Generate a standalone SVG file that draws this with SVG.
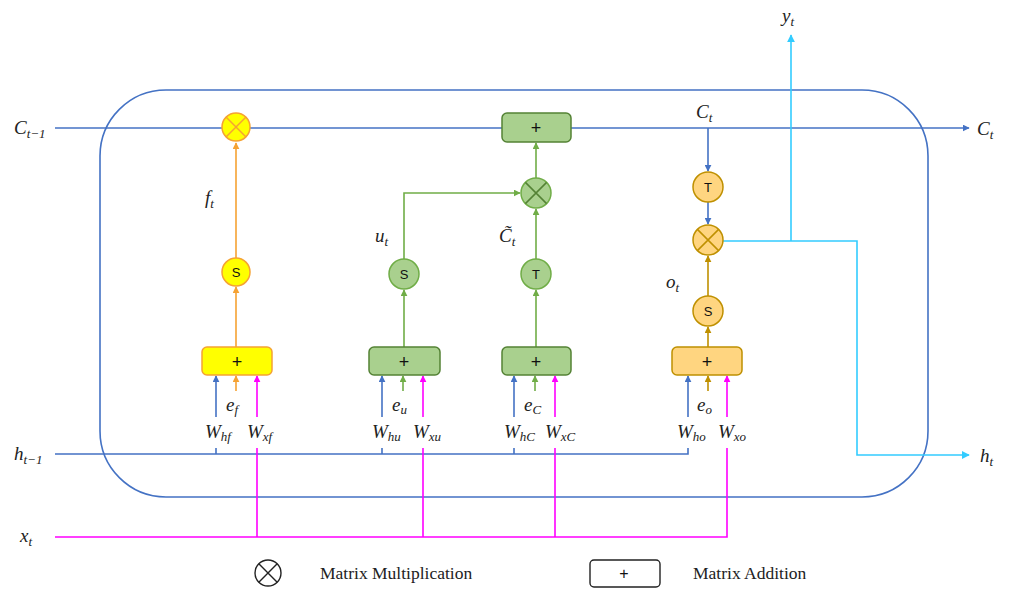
<svg xmlns="http://www.w3.org/2000/svg" width="1011" height="590" viewBox="0 0 1011 590">
<style>
.ln{fill:none;stroke-width:1.6}
.b{stroke:#4472C4}.o{stroke:#F5A233}.g{stroke:#70AD47}.d{stroke:#BF9000}.m{stroke:#FF00FF}.c{stroke:#33CCFF}
.lab{font-family:"Liberation Serif","DejaVu Serif",serif;font-style:italic;font-size:19px;fill:#222}
.sub{font-size:13px}
.op{font-family:"Liberation Sans",Arial,sans-serif;font-size:18px;fill:#111;text-anchor:middle}
.gl{font-family:"Liberation Sans",Arial,sans-serif;font-size:13px;fill:#111;text-anchor:middle}
.leg{font-family:"Liberation Serif","Times New Roman",serif;font-size:17.5px;fill:#222}
.yf{fill:#FFFF00;stroke:#F5A233;stroke-width:1.5}
.gf{fill:#A9D08E;stroke:#548235;stroke-width:1.5}
.gc{fill:#A9D08E;stroke:#70AD47;stroke-width:1.5}
.of{fill:#FFD580;stroke:#BF9000;stroke-width:1.5}
</style>
<defs>
<marker id="ab" viewBox="0 0 10 10" refX="9" refY="5" markerWidth="7" markerHeight="7" markerUnits="userSpaceOnUse" orient="auto"><path d="M0,0L10,5L0,10z" fill="#4472C4"/></marker>
<marker id="ao" viewBox="0 0 10 10" refX="9" refY="5" markerWidth="7" markerHeight="7" markerUnits="userSpaceOnUse" orient="auto"><path d="M0,0L10,5L0,10z" fill="#F5A233"/></marker>
<marker id="ag" viewBox="0 0 10 10" refX="9" refY="5" markerWidth="7" markerHeight="7" markerUnits="userSpaceOnUse" orient="auto"><path d="M0,0L10,5L0,10z" fill="#70AD47"/></marker>
<marker id="ad" viewBox="0 0 10 10" refX="9" refY="5" markerWidth="7" markerHeight="7" markerUnits="userSpaceOnUse" orient="auto"><path d="M0,0L10,5L0,10z" fill="#BF9000"/></marker>
<marker id="am" viewBox="0 0 10 10" refX="9" refY="5" markerWidth="7" markerHeight="7" markerUnits="userSpaceOnUse" orient="auto"><path d="M0,0L10,5L0,10z" fill="#FF00FF"/></marker>
<marker id="ac" viewBox="0 0 10 10" refX="9" refY="5" markerWidth="8" markerHeight="8" markerUnits="userSpaceOnUse" orient="auto"><path d="M0,0L10,5L0,10z" fill="#33CCFF"/></marker>
</defs>

<g id="cell"><rect x="100" y="90" width="828" height="407" rx="66" ry="66" fill="none" stroke="#4472C4" stroke-width="1.6"/></g>

<g id="connectors">
<path class="ln b" d="M55,128H969" marker-end="url(#ab)"/>
<path class="ln b" d="M55,454H688V448"/>
<path class="ln b" d="M216,454V448M382,454V448M514,454V448"/>
<path class="ln b" d="M216,417V376" marker-end="url(#ab)"/>
<path class="ln b" d="M382,417V376" marker-end="url(#ab)"/>
<path class="ln b" d="M514,417V376" marker-end="url(#ab)"/>
<path class="ln b" d="M688,417V376" marker-end="url(#ab)"/>
<path class="ln m" d="M55,537H727V448M257,537V448M423,537V448M555,537V448"/>
<path class="ln m" d="M257,417V376" marker-end="url(#am)"/>
<path class="ln m" d="M423,417V376" marker-end="url(#am)"/>
<path class="ln m" d="M555,417V376" marker-end="url(#am)"/>
<path class="ln m" d="M727,417V376" marker-end="url(#am)"/>
<path class="ln o" d="M236,391V376" marker-end="url(#ao)"/>
<path class="ln g" d="M403,391V376" marker-end="url(#ag)"/>
<path class="ln g" d="M535,391V376" marker-end="url(#ag)"/>
<path class="ln d" d="M708,391V376" marker-end="url(#ad)"/>
<path class="ln o" d="M236,347V287" marker-end="url(#ao)"/>
<path class="ln o" d="M236,258V143" marker-end="url(#ao)"/>
<path class="ln g" d="M404,347V290" marker-end="url(#ag)"/>
<path class="ln g" d="M404,259V193H520" marker-end="url(#ag)"/>
<path class="ln g" d="M536,347V290" marker-end="url(#ag)"/>
<path class="ln g" d="M536,259V209" marker-end="url(#ag)"/>
<path class="ln g" d="M536,178V143" marker-end="url(#ag)"/>
<path class="ln b" d="M708,128V171" marker-end="url(#ab)"/>
<path class="ln b" d="M708,202V224" marker-end="url(#ab)"/>
<path class="ln d" d="M708,347V327" marker-end="url(#ad)"/>
<path class="ln d" d="M708,296V256" marker-end="url(#ad)"/>
<path class="ln c" d="M723,241H857V455H969" marker-end="url(#ac)"/>
<path class="ln c" d="M791,241V35" marker-end="url(#ac)"/>
</g>

<g id="forget-mult"><circle cx="236" cy="127" r="14" class="yf"/><path d="M226,117L246,137M246,117L226,137" stroke="#F5A233" stroke-width="1.5"/></g>
<g id="forget-sigmoid"><circle cx="236" cy="272" r="14" class="yf"/><text x="236" y="277" class="gl">S</text></g>
<g id="forget-add"><rect x="202" y="347" width="70" height="28" rx="5" class="yf"/><text x="237" y="368" class="op">+</text></g>

<g id="update-sigmoid"><circle cx="404" cy="274" r="15" class="gc"/><text x="404" y="279" class="gl">S</text></g>
<g id="update-add"><rect x="369" y="347" width="71" height="28" rx="5" class="gf"/><text x="404" y="368" class="op">+</text></g>

<g id="cand-tanh"><circle cx="536" cy="274" r="15" class="gc"/><text x="536" y="279" class="gl">T</text></g>
<g id="cand-mult"><circle cx="536" cy="193" r="15" class="gc"/><path d="M525.4,182.4L546.6,203.6M546.6,182.4L525.4,203.6" stroke="#548235" stroke-width="1.5"/></g>
<g id="cand-add"><rect x="502" y="347" width="69" height="28" rx="5" class="gf"/><text x="536" y="368" class="op">+</text></g>
<g id="cell-add"><rect x="502" y="113" width="69" height="29" rx="5" class="gf"/><text x="536" y="134" class="op">+</text></g>

<g id="out-tanh"><circle cx="708" cy="187" r="15" class="of"/><text x="708" y="192" class="gl">T</text></g>
<g id="out-mult"><circle cx="708" cy="240" r="15" class="of"/><path d="M697.4,229.4L718.6,250.6M718.6,229.4L697.4,250.6" stroke="#BF9000" stroke-width="1.5"/></g>
<g id="out-sigmoid"><circle cx="708" cy="311" r="15" class="of"/><text x="708" y="316" class="gl">S</text></g>
<g id="out-add"><rect x="672" y="347" width="70" height="28" rx="5" class="of"/><text x="707" y="368" class="op">+</text></g>

<g id="labels">
<text class="lab" x="14" y="134">C<tspan class="sub" dy="4">t−1</tspan></text>
<text class="lab" x="977" y="135">C<tspan class="sub" dy="4">t</tspan></text>
<text class="lab" x="14" y="460">h<tspan class="sub" dy="4">t−1</tspan></text>
<text class="lab" x="980" y="462">h<tspan class="sub" dy="4">t</tspan></text>
<text class="lab" x="20" y="542">x<tspan class="sub" dy="4">t</tspan></text>
<text class="lab" x="782" y="22">y<tspan class="sub" dy="4">t</tspan></text>
<text class="lab" x="205" y="204">f<tspan class="sub" dy="4">t</tspan></text>
<text class="lab" x="375" y="242">u<tspan class="sub" dy="4">t</tspan></text>
<text class="lab" x="499" y="242">C̃<tspan class="sub" dy="4">t</tspan></text>
<text class="lab" x="696" y="118">C<tspan class="sub" dy="4">t</tspan></text>
<text class="lab" x="666" y="288">o<tspan class="sub" dy="4">t</tspan></text>
<text class="lab" x="226" y="411">e<tspan class="sub" dy="3">f</tspan></text>
<text class="lab" x="205" y="438">W<tspan class="sub" dy="3">hf</tspan></text>
<text class="lab" x="247" y="438">W<tspan class="sub" dy="3">xf</tspan></text>
<text class="lab" x="392" y="411">e<tspan class="sub" dy="3">u</tspan></text>
<text class="lab" x="372" y="438">W<tspan class="sub" dy="3">hu</tspan></text>
<text class="lab" x="413" y="438">W<tspan class="sub" dy="3">xu</tspan></text>
<text class="lab" x="524" y="411">e<tspan class="sub" dy="3">C</tspan></text>
<text class="lab" x="504" y="438">W<tspan class="sub" dy="3">hC</tspan></text>
<text class="lab" x="545" y="438">W<tspan class="sub" dy="3">xC</tspan></text>
<text class="lab" x="697" y="411">e<tspan class="sub" dy="3">o</tspan></text>
<text class="lab" x="677" y="438">W<tspan class="sub" dy="3">ho</tspan></text>
<text class="lab" x="718" y="438">W<tspan class="sub" dy="3">xo</tspan></text>
</g>

<g id="legend">
<circle cx="268" cy="573" r="13" fill="none" stroke="#222" stroke-width="1.4"/>
<path d="M258.8,563.8L277.2,582.2M277.2,563.8L258.8,582.2" stroke="#222" stroke-width="1.4"/>
<text class="leg" x="320" y="579">Matrix Multiplication</text>
<rect x="590" y="560" width="70" height="27" rx="4" fill="none" stroke="#222" stroke-width="1.4"/>
<text x="624" y="579" class="op" style="font-size:16px">+</text>
<text class="leg" x="693" y="579">Matrix Addition</text>
</g>
</svg>
